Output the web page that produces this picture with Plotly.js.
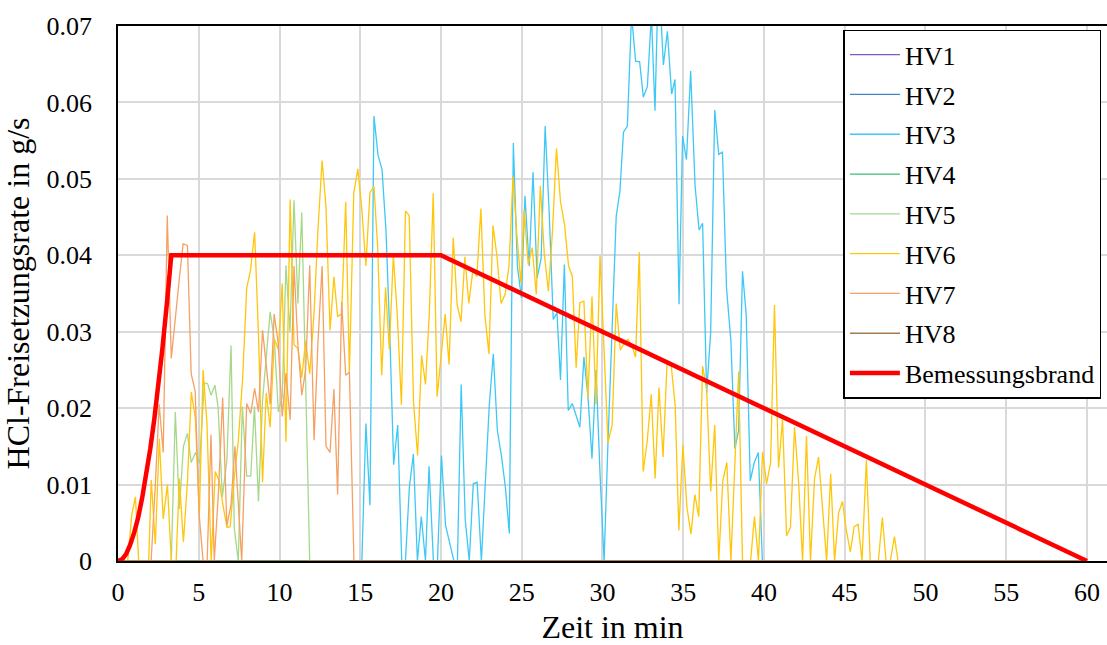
<!DOCTYPE html>
<html>
<head>
<meta charset="utf-8">
<script src="https://cdn.plot.ly/plotly-3.0.1.min.js"></script>
<style>
html,body{margin:0;padding:0;background:#fff;}
#chart{width:1107px;height:645px;}
</style>
</head>
<body>
<div id="chart"></div>
<script>
// ---- data (time in min, HCl release rate in g/s) ----
const tZero = [0, 10, 20, 30, 40, 50, 60];
const hv1 = [0, 0, 0, 0, 0, 0, 0];
const hv2 = [0, 0, 0, 0, 0, 0, 0];
const hv4 = [0, 0, 0, 0, 0, 0, 0];
const hv8 = [0, 0, 0, 0, 0, 0, 0];

const t3 = [0, 15.1, 15.35, 15.6, 15.85, 16.1, 16.35, 16.6, 16.84, 17.07,
  17.32, 17.57, 17.8, 18.04, 18.29, 18.54, 18.78, 19.04, 19.26, 19.53,
  19.78, 20.03, 20.28, 20.53, 20.8, 21.02, 21.25, 21.5, 21.75, 22.0,
  22.24, 22.5, 22.74, 22.99, 23.24, 23.49, 23.74, 23.99, 24.23, 24.48,
  24.73, 24.98, 25.2, 25.46, 25.7, 25.95, 26.2, 26.45, 26.7, 26.95,
  27.18, 27.4, 27.64, 27.88, 28.13, 28.37, 28.6, 28.85, 29.1, 29.35,
  29.6, 29.85, 30.1, 30.34, 30.6, 30.85, 31.08, 31.3, 31.54, 31.8,
  32.05, 32.3, 32.53, 32.78, 33.03, 33.25, 33.4, 33.62, 33.77, 34.02,
  34.28, 34.49, 34.74, 34.96, 35.2, 35.46, 35.73, 35.98, 36.2, 36.45,
  36.7, 36.95, 37.2, 37.43, 37.68, 37.95, 38.2, 38.43, 38.67, 38.9,
  39.15, 39.4, 39.65, 39.9, 60];
const hv3 = [0, 0, 0.018, 0.0073, 0.0582, 0.0531, 0.0512, 0.043, 0.029, 0.0126,
  0.0178, 0, 0, 0.0096, 0.014, 0, 0.0058, 0, 0.0124, 0,
  0, 0.0138, 0.0047, 0.0026, 0, 0, 0.0231, 0.0054, 0, 0.0101,
  0.0103, 0, 0.011, 0.0204, 0.0271, 0.0171, 0.0138, 0.0096, 0.0036, 0.0547,
  0.0386, 0.0344, 0.0478, 0.0386, 0.0509, 0.037, 0.0396, 0.0569, 0.0456, 0.0316,
  0.0325, 0.0237, 0.0388, 0.0197, 0.0206, 0.019, 0.0175, 0.0267, 0.0215, 0.0134,
  0.025, 0.0113, 0, 0.0155, 0.032, 0.0451, 0.0484, 0.0561, 0.0569, 0.0715,
  0.0654, 0.0653, 0.0607, 0.0621, 0.0715, 0.0589, 0.0715, 0.0712, 0.0649, 0.0693,
  0.0611, 0.063, 0.0336, 0.0556, 0.0525, 0.0641, 0.0492, 0.0433, 0.0442, 0.022,
  0.03, 0.059, 0.0532, 0.0535, 0.0357, 0.0288, 0.0147, 0.0171, 0.0379, 0.0322,
  0.0105, 0.0129, 0.0142, 0, 0];

const t5 = [0, 3.3, 3.55, 3.8, 4.05, 4.3, 4.53, 4.8, 5.05, 5.35,
  5.55, 5.76, 6.0, 6.2, 6.46, 6.74, 7.0, 7.2, 7.45, 7.7,
  7.97, 8.22, 8.45, 8.7, 8.95, 9.17, 9.42, 9.68, 9.93, 10.17,
  10.4, 10.65, 10.9, 11.14, 11.38, 11.87, 60];
const hv5 = [0, 0, 0.0195, 0.0068, 0.015, 0.0167, 0.0129, 0.0142, 0.0128, 0.0233,
  0.0232, 0.0217, 0.023, 0.0201, 0.0084, 0.0131, 0.0282, 0.0043, 0, 0.0202,
  0.0111, 0.0111, 0.0202, 0.0078, 0.021, 0.0268, 0.0326, 0.029, 0.0195, 0.0215,
  0.0387, 0.03, 0.0472, 0.0337, 0.0456, 0, 0];

const t6 = [0, 0.6, 0.85, 1.08, 1.28, 1.9, 2.06, 2.31, 2.56, 2.8,
  3.06, 3.3, 3.6, 3.8, 4.05, 4.3, 4.54, 4.79, 5.04, 5.27,
  5.51, 5.77, 6.02, 6.26, 6.5, 6.75, 6.95, 7.2, 7.45, 7.72,
  7.97, 8.2, 8.46, 8.7, 8.95, 9.18, 9.42, 9.68, 9.93, 10.17,
  10.4, 10.66, 10.9, 11.14, 11.38, 11.62, 11.87, 12.14, 12.39, 12.64,
  12.88, 13.13, 13.37, 13.6, 13.85, 14.1, 14.33, 14.6, 14.85, 15.1,
  15.35, 15.6, 15.85, 16.08, 16.33, 16.57, 16.8, 17.05, 17.3, 17.55,
  17.8, 18.03, 18.3, 18.55, 18.8, 19.04, 19.28, 19.52, 19.76, 20.0,
  20.26, 20.5, 20.76, 21.0, 21.24, 21.48, 21.72, 21.98, 22.22, 22.47,
  22.72, 22.97, 23.22, 23.46, 23.72, 23.97, 24.21, 24.46, 24.71, 24.95,
  25.15, 25.4, 25.65, 25.9, 26.15, 26.4, 26.65, 26.9, 27.15, 27.4,
  27.65, 27.9, 28.13, 28.37, 28.6, 28.85, 29.1, 29.35, 29.6, 29.85,
  30.1, 30.34, 30.6, 30.85, 31.1, 31.34, 31.58, 31.83, 32.05, 32.28,
  32.52, 32.77, 33.02, 33.26, 33.5, 33.75, 34.0, 34.25, 34.5, 34.73,
  34.98, 35.23, 35.48, 35.72, 35.96, 36.2, 36.45, 36.7, 36.95, 37.2,
  37.45, 37.7, 37.95, 38.19, 38.43, 38.67, 38.92, 39.17, 39.41, 39.66,
  39.91, 40.16, 40.41, 40.65, 40.9, 41.15, 41.4, 41.64, 41.89, 42.14,
  42.39, 42.63, 42.88, 43.13, 43.38, 43.63, 43.88, 44.13, 44.37, 44.62,
  44.86, 45.1, 45.35, 45.58, 45.83, 46.07, 46.34, 46.58, 46.82, 47.08,
  47.33, 47.56, 47.82, 48.08, 48.3, 60];
const hv6 = [0, 0, 0.006, 0.0084, 0, 0, 0.0106, 0.0022, 0.016, 0.0055,
  0.01, 0, 0, 0.0108, 0.0025, 0.0103, 0.0221, 0.0187, 0.0062, 0.025,
  0.018, 0, 0.0117, 0.0105, 0.0073, 0.0044, 0.0045, 0.011, 0.0157, 0.024,
  0.0357, 0.038, 0.043, 0.0295, 0.0103, 0.022, 0.0175, 0.029, 0.0277, 0.0363,
  0.0156, 0.0473, 0.0283, 0.0278, 0.024, 0.0288, 0.0245, 0.0325, 0.0437, 0.0524,
  0.0463, 0.0302, 0.0372, 0.032, 0.0323, 0.047, 0.0247, 0.0481, 0.0513, 0.046,
  0.0386, 0.0482, 0.049, 0.041, 0.0243, 0.0358, 0.0277, 0.04, 0.032, 0.0204,
  0.0458, 0.0452, 0.0208, 0.0138, 0.0269, 0.0231, 0.0325, 0.0481, 0.0215, 0.027,
  0.0323, 0.0257, 0.0423, 0.0335, 0.0313, 0.0398, 0.0337, 0.0381, 0.0372, 0.0461,
  0.0321, 0.0271, 0.0439, 0.04, 0.0337, 0.0349, 0.0386, 0.0503, 0.0423, 0.0363,
  0.046, 0.0388, 0.041, 0.0349, 0.0491, 0.0401, 0.0353, 0.043, 0.054, 0.047,
  0.044, 0.0386, 0.0373, 0.0253, 0.0338, 0.034, 0.0213, 0.0346, 0.0205, 0.04,
  0.0272, 0.0155, 0.0178, 0.0337, 0.0276, 0.0285, 0.029, 0.0281, 0.0267, 0.0404,
  0.0117, 0.0157, 0.0218, 0.0108, 0.0227, 0.0136, 0.026, 0.0257, 0.0204, 0.004,
  0.0152, 0.007, 0.0035, 0.0087, 0.0058, 0.0255, 0.0225, 0.0091, 0.0178, 0,
  0.0105, 0.0129, 0, 0.0124, 0.0248, 0, 0, 0, 0.0058, 0,
  0.0143, 0.0101, 0.0129, 0.0335, 0.0122, 0.0185, 0.0033, 0.0044, 0.0175, 0.0105,
  0, 0.0164, 0, 0.0108, 0.0136, 0.0063, 0, 0.0114, 0, 0.0063,
  0.0078, 0.004, 0.0012, 0.0045, 0.0048, 0, 0.0132, 0, 0, 0,
  0.0057, 0, 0, 0.0032, 0, 0];

const t7 = [0, 2.05, 2.3, 2.55, 2.8, 3.05, 3.3, 3.55, 3.8, 4.03,
  4.3, 4.53, 4.78, 5.02, 5.27, 5.52, 5.76, 5.96, 6.22, 6.48,
  6.74, 7.0, 7.24, 7.66, 7.97, 8.22, 8.46, 8.7, 8.95, 9.18,
  9.42, 9.67, 9.92, 10.17, 10.4, 10.66, 10.9, 11.14, 11.38, 11.62,
  11.87, 12.14, 12.39, 12.64, 12.88, 13.13, 13.37, 13.6, 13.85, 14.1,
  14.33, 14.61, 60];
const hv7 = [0, 0, 0.0095, 0.0205, 0.0142, 0.0452, 0.0265, 0.032, 0.037, 0.0415,
  0.0413, 0.0245, 0.0222, 0.0062, 0, 0, 0.0165, 0, 0.009, 0.0214,
  0.0046, 0.0074, 0.015, 0, 0.0206, 0.0193, 0.0226, 0.0195, 0.0302, 0.0256,
  0.0205, 0.0323, 0.0285, 0.0189, 0.0246, 0.0185, 0.0386, 0.0283, 0.0217, 0.025,
  0.0387, 0.0158, 0.029, 0.0386, 0.015, 0.0142, 0.0225, 0.0087, 0.0339, 0.0243,
  0.0247, 0, 0];

const tBem = [0, 0.25, 0.5, 0.75, 1, 1.25, 1.5, 1.75, 2, 2.25, 2.5, 2.75, 3.05, 3.3, 20, 60];
const bem = [0, 0.0002, 0.0009, 0.0021, 0.0037, 0.0057, 0.0083, 0.0112, 0.0147, 0.0186, 0.023, 0.0278, 0.0342, 0.04, 0.04, 0];

const names = ["HV1", "HV2", "HV3", "HV4", "HV5", "HV6", "HV7", "HV8", "Bemessungsbrand"];
const colors = ["#7e57c2", "#3d85c6", "#3ec8f5", "#3dbb78", "#a6d88a", "#ffc60a", "#f5a064", "#a67a50", "#ff0000"];

// ---- traces ----
const xs = [tZero, tZero, t3, tZero, t5, t6, t7, tZero, tBem];
const ys = [hv1, hv2, hv3, hv4, hv5, hv6, hv7, hv8, bem];
const traces = names.map((n, i) => ({
  type: "scatter", mode: "lines", name: n, x: xs[i], y: ys[i],
  legendgroup: "g" + i,
  line: {color: colors[i], width: i === 8 ? 4.5 : 1.3}
}));

const FAM = "Liberation Serif";
const layout = {
  width: 1107, height: 645,
  margin: {l: 118, r: 0, t: 26, b: 84},
  paper_bgcolor: "#ffffff", plot_bgcolor: "#ffffff",
  font: {family: FAM, color: "#000000"},
  showlegend: true,
  legend: {
    x: 0.7335, y: 0.993, xanchor: "left", yanchor: "top",
    bgcolor: "#ffffff", bordercolor: "#000000", borderwidth: 1.5,
    font: {family: FAM, size: 26, color: "#000000"},
    itemwidth: 50, traceorder: "grouped", tracegroupgap: 3
  },
  xaxis: {
    range: [0, 61.24], tick0: 0, dtick: 5,
    showgrid: true, gridcolor: "#d9d9d9", gridwidth: 1.5, zeroline: false,
    showline: true, linecolor: "#000000", linewidth: 1.5, mirror: true,
    ticks: "outside", ticklen: 7, tickcolor: "rgba(0,0,0,0)",
    tickfont: {family: FAM, size: 26, color: "#000000"},
    title: {text: "Zeit in min", font: {family: FAM, size: 32, color: "#000000"}, standoff: 31}
  },
  yaxis: {
    range: [0, 0.07], tick0: 0, dtick: 0.01,
    showgrid: true, gridcolor: "#d9d9d9", gridwidth: 1.5, zeroline: false,
    showline: true, linecolor: "#000000", linewidth: 1.5, mirror: false,
    ticks: "outside", ticklen: 19, tickcolor: "rgba(0,0,0,0)",
    tickfont: {family: FAM, size: 26, color: "#000000"},
    title: {text: "HCl-Freisetzungsrate in g/s", font: {family: FAM, size: 32, color: "#000000"}, standoff: 8}
  }
};

function draw() {
  Plotly.newPlot("chart", traces, layout, {displayModeBar: false, responsive: false});
}
if (document.fonts && document.fonts.load) {
  document.fonts.load('26px "Liberation Serif"').then(draw, draw);
} else {
  draw();
}
</script>
</body>
</html>
